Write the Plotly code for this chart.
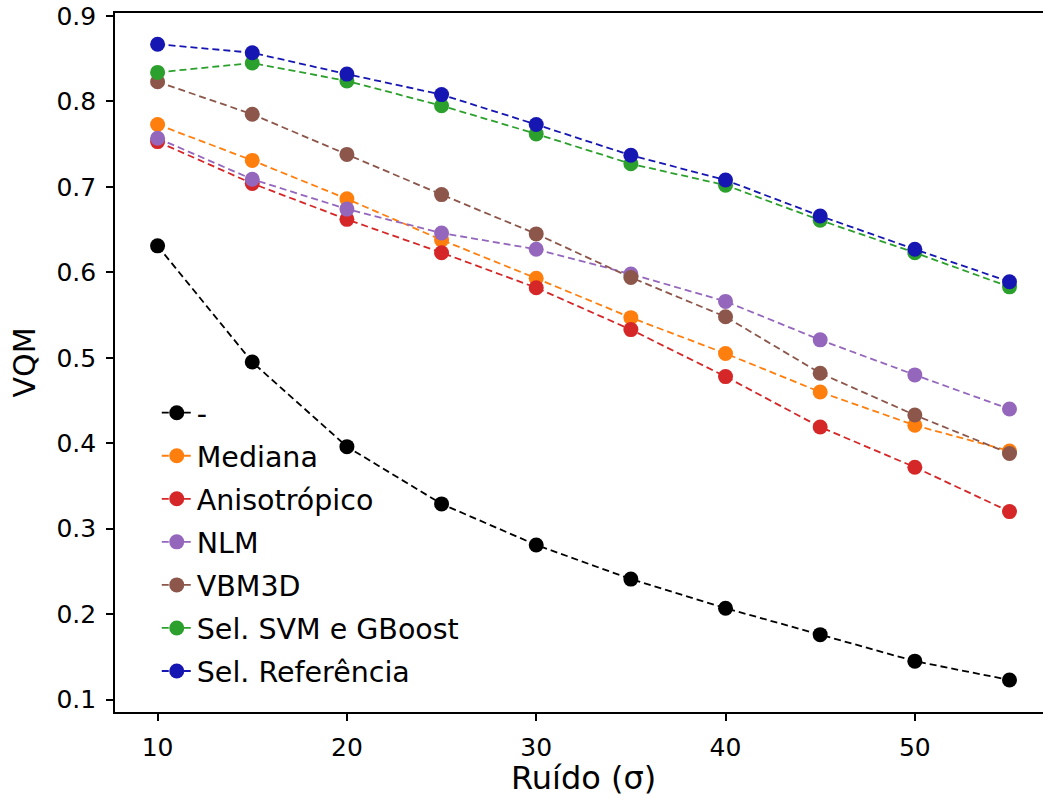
import plotly.graph_objects as go

sigma = [10, 15, 20, 25, 30, 35, 40, 45, 50, 55]

series_names = ["-", "Mediana", "Anisotrópico", "NLM", "VBM3D", "Sel. SVM e GBoost", "Sel. Referência"]

vqm_none = [0.631, 0.495, 0.396, 0.329, 0.281, 0.241, 0.207, 0.176, 0.145, 0.123]
vqm_mediana = [0.773, 0.731, 0.686, 0.638, 0.593, 0.547, 0.505, 0.460, 0.421, 0.391]
vqm_aniso = [0.753, 0.704, 0.662, 0.623, 0.582, 0.533, 0.478, 0.419, 0.372, 0.320]
vqm_nlm = [0.757, 0.709, 0.674, 0.646, 0.627, 0.598, 0.566, 0.521, 0.480, 0.440]
vqm_vbm3d = [0.823, 0.785, 0.738, 0.691, 0.645, 0.594, 0.548, 0.482, 0.433, 0.388]
vqm_svm = [0.834, 0.845, 0.824, 0.795, 0.762, 0.727, 0.702, 0.661, 0.623, 0.583]
vqm_ref = [0.867, 0.857, 0.832, 0.808, 0.773, 0.737, 0.708, 0.666, 0.627, 0.589]

colors = ["#000000", "#ff7f0e", "#d62728", "#9467bd", "#8c564b", "#2ca02c", "#1616b2"]
all_values = [vqm_none, vqm_mediana, vqm_aniso, vqm_nlm, vqm_vbm3d, vqm_svm, vqm_ref]

y_ticks = [0.1, 0.2, 0.3, 0.4, 0.5, 0.6, 0.7, 0.8, 0.9]
x_ticks = [10, 20, 30, 40, 50]

FONT = "DejaVu Sans"

fig = go.Figure()
for i, (name, vals, col) in enumerate(zip(series_names, all_values, colors)):
    fig.add_trace(go.Scatter(
        x=sigma, y=vals, name=name, mode="lines+markers",
        line=dict(color=col, width=1.8, dash="7px,4px"),
        marker=dict(color=col, size=15, line=dict(width=0)),
        legendgroup=f"g{i}",
    ))

fig.update_layout(
    width=1043, height=801,
    margin=dict(l=115, r=0, t=13, b=89),
    paper_bgcolor="white", plot_bgcolor="white",
    font=dict(family=FONT, color="black"),
    showlegend=True,
    legend=dict(
        x=0.045, y=0.464, xanchor="left", yanchor="top",
        font=dict(size=28.5, family=FONT),
        bgcolor="rgba(255,255,255,0)",
        borderwidth=0,
        tracegroupgap=3,
        traceorder="grouped",
    ),
    xaxis=dict(
        range=[7.75, 56.77],
        tickmode="array", tickvals=x_ticks, ticktext=[str(t) for t in x_ticks],
        ticks="outside", ticklen=7, tickwidth=1.5, tickcolor="black",
        showline=True, linecolor="black", linewidth=1.6, mirror=True,
        showgrid=False, zeroline=False,
        tickfont=dict(size=25, family=FONT),
        ticklabelstandoff=5,
    ),
    yaxis=dict(
        range=[0.0855, 0.9035],
        tickmode="array", tickvals=y_ticks, ticktext=[f"{t:.1f}" for t in y_ticks],
        ticks="outside", ticklen=7, tickwidth=1.5, tickcolor="black",
        showline=True, linecolor="black", linewidth=1.6, mirror=False,
        showgrid=False, zeroline=False,
        tickfont=dict(size=25, family=FONT),
        ticklabelstandoff=5,
    ),
    annotations=[
        dict(text="Ruído (σ)", xref="x", yref="paper", x=32.5, y=0, yshift=-66,
             xanchor="center", yanchor="middle", showarrow=False,
             font=dict(size=32, family=FONT)),
        dict(text="VQM", xref="paper", yref="paper", x=0, xshift=-91, y=0.5,
             xanchor="center", yanchor="middle", showarrow=False, textangle=-90,
             font=dict(size=30, family=FONT)),
    ],
)

fig.write_html("out.html")
